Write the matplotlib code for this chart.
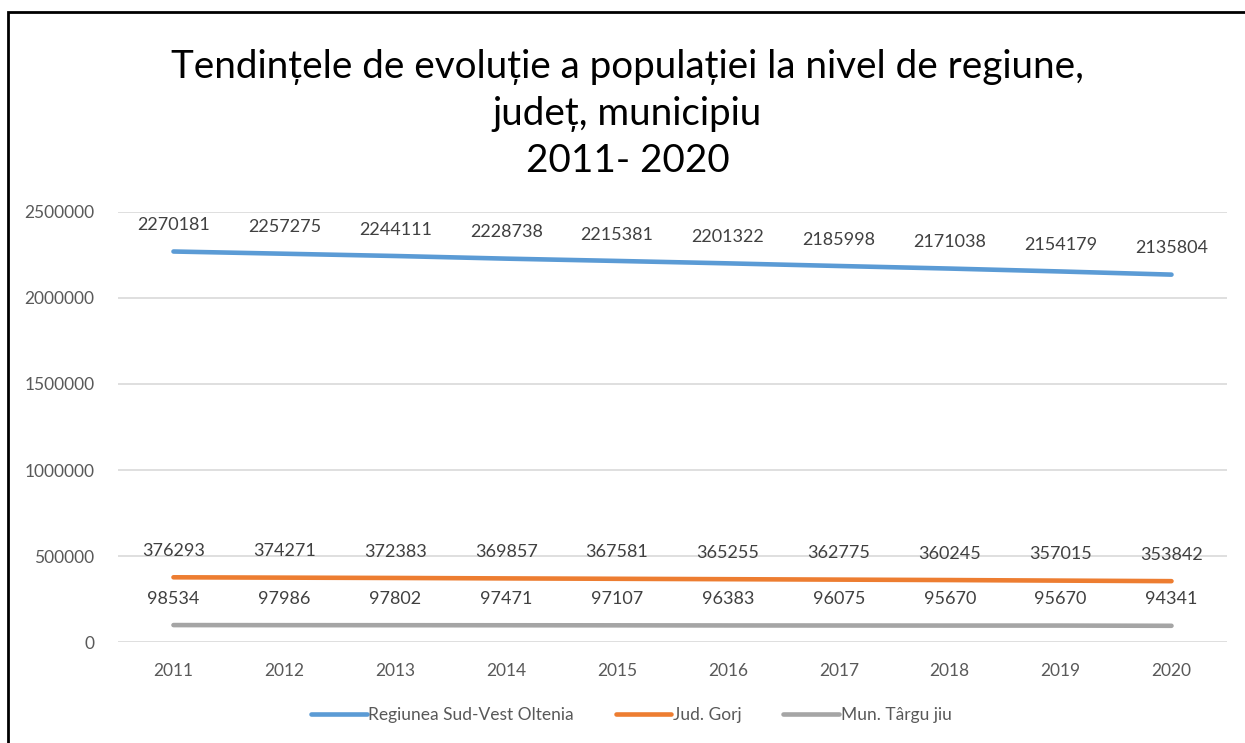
import matplotlib.pyplot as plt
from matplotlib.patches import Rectangle

# ------------------------------------------------------------
# DATA
# ------------------------------------------------------------

years = ["2011", "2012", "2013", "2014", "2015", "2016", "2017", "2018", "2019", "2020"]

regiune = [2270181, 2257275, 2244111, 2228738, 2215381, 2201322, 2185998, 2171038, 2154179, 2135804]
judet = [376293, 374271, 372383, 369857, 367581, 365255, 362775, 360245, 357015, 353842]
municipiu = [98534, 97986, 97802, 97471, 97107, 96383, 96075, 95670, 95670, 94341]

series = [
    ("Regiunea Sud-Vest Oltenia", regiune, "#5B9BD5"),
    ("Jud. Gorj", judet, "#ED7D31"),
    ("Mun. Târgu jiu", municipiu, "#A5A5A5"),
]

y_ticks = [0, 500000, 1000000, 1500000, 2000000, 2500000]

plt.rcParams['font.family'] = ['Lato', 'DejaVu Sans']

# ------------------------------------------------------------
# FIGURE
# ------------------------------------------------------------

fig = plt.figure(figsize=(12.45, 7.43), dpi=100)
ax = fig.add_axes([0.0948, 0.1359, 0.8907, 0.5788])

x = list(range(len(years)))

for label, values, color in series:
    ax.plot(x, values, color=color, lw=3.3, solid_capstyle='round', label=label)
    for xi, v in zip(x, values):
        ax.annotate(str(v), (xi, v), xytext=(0, 19), textcoords='offset points',
                    ha='center', va='center', fontsize=13, color='#404040')

ax.set_xlim(-0.5, len(years) - 0.5)
ax.set_ylim(0, 2500000)
ax.set_xticks(x)
ax.set_xticklabels(years)
ax.set_yticks(y_ticks)
ax.set_yticklabels([str(t) for t in y_ticks])

ax.tick_params(axis='both', length=0, labelsize=12.5, labelcolor='#595959')
ax.tick_params(axis='x', pad=15)
ax.tick_params(axis='y', pad=17)

ax.grid(axis='y', color='#D9D9D9', lw=1.2)
ax.set_axisbelow(True)
for spine in ax.spines.values():
    spine.set_visible(False)

# ------------------------------------------------------------
# TITLE
# ------------------------------------------------------------

fig.text(0.504, 1 - 114 / 743,
         "Tendințele de evoluție a populației la nivel de regiune,\njudeț, municipiu\n2011- 2020",
         ha='center', va='center', fontsize=27.8, color='black', linespacing=1.38)

# ------------------------------------------------------------
# LEGEND
# ------------------------------------------------------------

fig.legend(loc='center', bbox_to_anchor=(0.507, 1 - 715 / 743), ncol=3,
           frameon=False, fontsize=12.5, handlelength=3.2, handletextpad=0.1,
           columnspacing=2.4, labelcolor='#595959')

# ------------------------------------------------------------
# FRAME
# ------------------------------------------------------------

fig.patches.append(Rectangle((8 / 1245, -0.2), 1.5, 1.2 - 12 / 743,
                             transform=fig.transFigure, fill=False,
                             edgecolor='black', lw=2))

plt.savefig("out.png", dpi=100)
